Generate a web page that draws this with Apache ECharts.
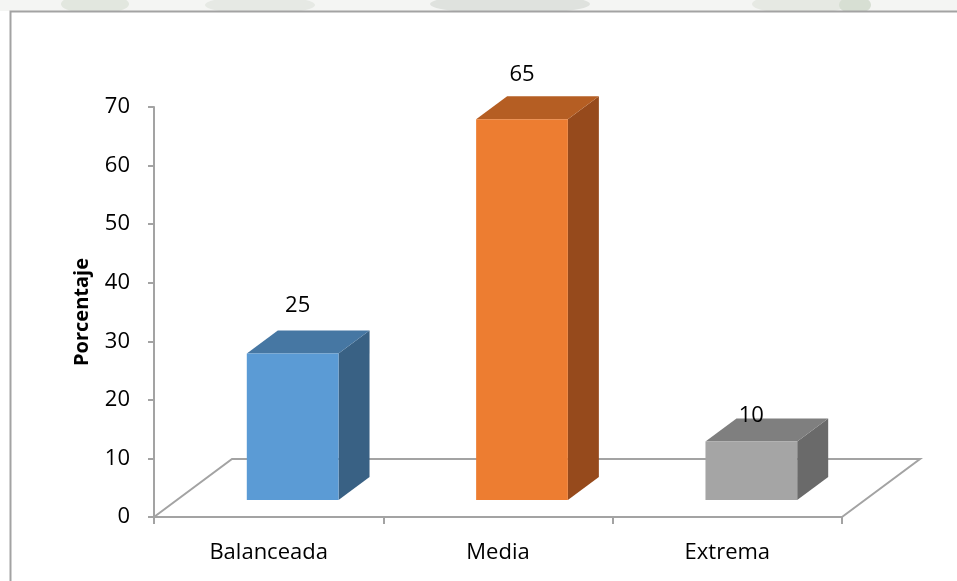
<!DOCTYPE html>
<html>
<head>
<meta charset="utf-8">
<script src="https://cdn.jsdelivr.net/npm/echarts@6/dist/echarts.min.js"></script>
<style>
  html, body { margin: 0; padding: 0; background: #ffffff; }
  #chart { width: 957px; height: 581px; }
</style>
</head>
<body>
<div id="chart"></div>
<script>
// Categories and their percentages
const categories = ['Balanceada', 'Media', 'Extrema'];
const values = [25, 65, 10];
const yTicks = { min: 0, max: 70, interval: 10 };

// Face colours for each bar: front, top, side
const faceColors = [
  { front: '#5B9BD5', top: '#4677A3', side: '#396184' },
  { front: '#ED7D31', top: '#B55E23', side: '#964A1C' },
  { front: '#A5A5A5', top: '#7F7F7F', side: '#6A6A6A' }
];
// Vertical nudge of each value label above its bar's front top edge
const labelLift = [48, 45, 26];
const labelShiftX = [5, 0, 0];

// Pseudo-3D geometry (pixels)
const FLOOR_DX = 78, FLOOR_DY = -58;   // floor depth
const BAR_FRONT_DX = 24, BAR_FRONT_DY = -17; // bar front face set back from the floor front edge
const BAR_DX = 31, BAR_DY = -23;       // bar depth
const AXIS_GRAY = '#a3a3a3';
const FONT = '"Open Sans", "Noto Sans", sans-serif';

const chart = echarts.init(document.getElementById('chart'), null, { renderer: 'canvas' });

function renderFloor(params, api) {
  const cs = params.coordSys;
  const x0 = cs.x, y0 = cs.y + cs.height, x1 = cs.x + cs.width;
  return {
    type: 'polyline',
    shape: {
      points: [
        [x0, y0],
        [x0 + FLOOR_DX, y0 + FLOOR_DY],
        [x1 + FLOOR_DX, y0 + FLOOR_DY],
        [x1, y0]
      ]
    },
    style: { stroke: AXIS_GRAY, lineWidth: 2, fill: null }
  };
}

function renderBar(params, api) {
  const idx = params.dataIndex;
  const cat = api.value(0);
  const val = api.value(1);
  const base = api.coord([cat, 0]);
  const top = api.coord([cat, val]);
  const bw = api.size([1, 0])[0] * 0.4;
  const cx = base[0] + BAR_FRONT_DX;
  const xl = cx - bw / 2, xr = cx + bw / 2;
  const yb = base[1] + BAR_FRONT_DY;
  const yt = top[1] + BAR_FRONT_DY;
  const c = faceColors[idx];
  return {
    type: 'group',
    children: [
      {
        type: 'polygon',
        shape: { points: [[xr, yt], [xr + BAR_DX, yt + BAR_DY], [xr + BAR_DX, yb + BAR_DY], [xr, yb]] },
        style: { fill: c.side }
      },
      {
        type: 'polygon',
        shape: { points: [[xl, yt], [xr, yt], [xr + BAR_DX, yt + BAR_DY], [xl + BAR_DX, yt + BAR_DY]] },
        style: { fill: c.top }
      },
      {
        type: 'rect',
        shape: { x: xl, y: yt, width: bw, height: yb - yt },
        style: { fill: c.front }
      },
      {
        type: 'text',
        x: cx + labelShiftX[idx],
        y: yt - labelLift[idx],
        style: {
          text: String(val),
          fill: '#000000',
          font: '22px ' + FONT,
          textAlign: 'center',
          textVerticalAlign: 'middle'
        }
      }
    ]
  };
}

const option = {
  backgroundColor: '#ffffff',
  animation: false,
  graphic: [
    // faint backdrop showing above the chart frame
    { type: 'rect', shape: { x: 0, y: 0, width: 957, height: 11 }, style: { fill: '#f4f5f3' }, z: -10 },
    { type: 'ellipse', shape: { cx: 95, cy: 4, rx: 34, ry: 10 }, style: { fill: '#e2e7df' }, z: -9 },
    { type: 'ellipse', shape: { cx: 260, cy: 5, rx: 55, ry: 9 }, style: { fill: '#e6e9e4' }, z: -9 },
    { type: 'ellipse', shape: { cx: 510, cy: 4, rx: 80, ry: 10 }, style: { fill: '#dfe2de' }, z: -9 },
    { type: 'ellipse', shape: { cx: 800, cy: 4, rx: 48, ry: 10 }, style: { fill: '#e6e9e3' }, z: -9 },
    { type: 'ellipse', shape: { cx: 855, cy: 5, rx: 16, ry: 9 }, style: { fill: '#d7dfd3' }, z: -9 },
    // chart frame
    { type: 'rect', shape: { x: 0, y: 11, width: 957, height: 570 }, style: { fill: '#ffffff' }, z: -8 },
    {
      type: 'polyline',
      shape: { points: [[10.5, 590], [10.5, 11.5], [960, 11.5]] },
      style: { stroke: AXIS_GRAY, lineWidth: 2, fill: null },
      z: -7
    }
  ],
  grid: { left: 154, right: 115, top: 107, bottom: 64 },
  xAxis: {
    type: 'category',
    data: categories,
    boundaryGap: true,
    axisLine: { show: true, lineStyle: { color: AXIS_GRAY, width: 2 } },
    axisTick: { show: true, length: 7, lineStyle: { color: AXIS_GRAY, width: 2 } },
    axisLabel: { color: '#000000', fontSize: 22, fontFamily: FONT, margin: 25 },
    splitLine: { show: false }
  },
  yAxis: {
    type: 'value',
    min: yTicks.min,
    max: yTicks.max,
    interval: yTicks.interval,
    name: 'Porcentaje',
    nameLocation: 'middle',
    nameGap: 62,
    nameTextStyle: { color: '#000000', fontSize: 20, fontWeight: 'bold', fontFamily: FONT },
    axisLine: { show: true, lineStyle: { color: AXIS_GRAY, width: 2 } },
    axisTick: { show: true, length: 6, lineStyle: { color: AXIS_GRAY, width: 2 } },
    axisLabel: { color: '#000000', fontSize: 22, fontFamily: FONT, margin: 24 },
    splitLine: { show: false }
  },
  series: [
    {
      type: 'custom',
      name: 'floor',
      renderItem: renderFloor,
      data: [[0, 0]],
      silent: true,
      z: 1
    },
    {
      type: 'custom',
      name: 'Porcentaje',
      renderItem: renderBar,
      data: categories.map((c, i) => [i, values[i]]),
      z: 5
    }
  ]
};

chart.setOption(option);
</script>
</body>
</html>
